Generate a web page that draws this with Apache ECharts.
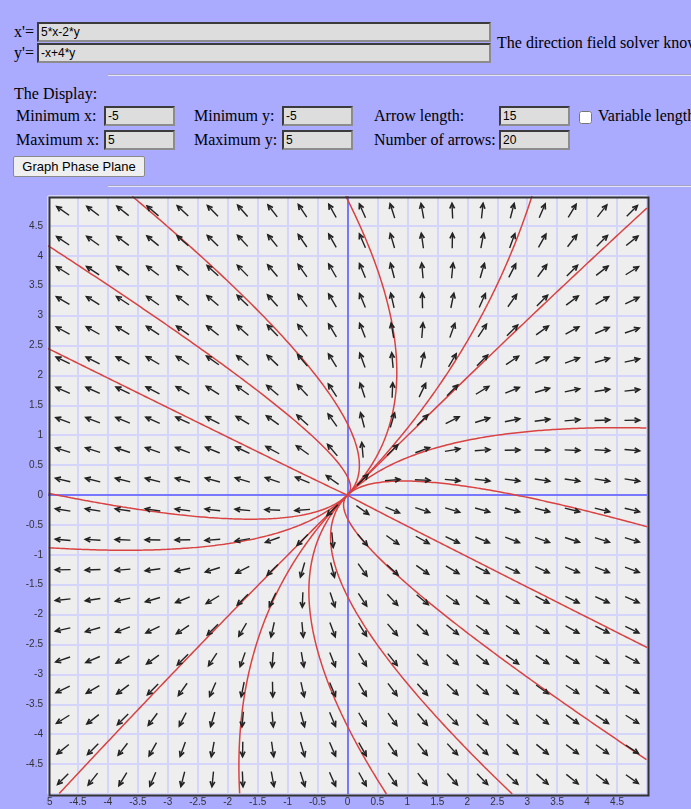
<!DOCTYPE html>
<html>
<head>
<meta charset="utf-8">
<title>Phase Plane</title>
<script src="https://cdn.jsdelivr.net/npm/echarts@6/dist/echarts.min.js"></script>
<style>
  html, body { margin: 0; padding: 0; width: 691px; height: 809px; overflow: hidden; background: #aaaaff; }
  body { position: relative; font-family: "Liberation Serif", "Times New Roman", serif; font-size: 16px; color: #000; white-space: nowrap; }
  .t { position: absolute; height: 20px; line-height: 20px; }
  .in { position: absolute; box-sizing: border-box; height: 20px; margin: 0; padding: 0 2px;
        background: #dddddd; border-style: solid; border-width: 2px;
        border-color: #3b3b3b #8c8c8c #8c8c8c #3b3b3b;
        font-family: "Liberation Sans", Arial, sans-serif; font-size: 12px; color: #000; outline: none; }
  .hr { position: absolute; left: 108px; width: 600px; height: 0; border-top: 1px solid #a4a4c4; border-bottom: 1px solid #e4e4f4; }
  .btn { position: absolute; box-sizing: border-box; margin: 0; padding: 0;
         background: #efefef; border: 1px solid #8a8a8a; border-radius: 2px;
         font-family: "Liberation Sans", Arial, sans-serif; font-size: 13px; color: #000; }
  .cb { position: absolute; margin: 0; width: 13px; height: 13px; }
  #chart { position: absolute; left: 0; top: 188px; width: 691px; height: 621px; }
</style>
</head>
<body>
  <div class="t" style="left:14px;top:22px;">x'=</div>
  <input class="in" style="left:37px;top:22px;width:454px;" value="5*x-2*y">
  <div class="t" style="left:14px;top:43px;">y'=</div>
  <input class="in" style="left:37px;top:43px;width:454px;" value="-x+4*y">
  <div class="t" style="left:497px;top:33px;">The direction field solver knows</div>
  <div class="hr" style="top:74px;"></div>

  <div class="t" style="left:14px;top:84px;">The Display:</div>

  <div class="t" style="left:16px;top:106px;">Minimum x:</div>
  <input class="in" style="left:104px;top:106px;width:71px;" value="-5">
  <div class="t" style="left:194px;top:106px;">Minimum y:</div>
  <input class="in" style="left:282px;top:106px;width:71px;" value="-5">
  <div class="t" style="left:374px;top:106px;">Arrow length:</div>
  <input class="in" style="left:499px;top:106px;width:71px;" value="15">
  <input class="cb" type="checkbox" style="left:579px;top:111px;">
  <div class="t" style="left:598px;top:106px;">Variable length</div>

  <div class="t" style="left:16px;top:130px;">Maximum x:</div>
  <input class="in" style="left:104px;top:130px;width:71px;" value="5">
  <div class="t" style="left:194px;top:130px;">Maximum y:</div>
  <input class="in" style="left:282px;top:130px;width:71px;" value="5">
  <div class="t" style="left:374px;top:130px;">Number of arrows:</div>
  <input class="in" style="left:499px;top:130px;width:71px;" value="20">

  <button class="btn" style="left:13px;top:156px;width:132px;height:21px;">Graph Phase Plane</button>
  <div class="hr" style="top:185px;"></div>

  <div id="chart"></div>

<script>
// System: x' = 5x - 2y, y' = -x + 4y  (coefficients of x and y)
const dxCoef = [5, -2];
const dyCoef = [-1, 4];

// Window
const xRange = [-5, 5];
const yRange = [-5, 5];

// Arrow centres (20 per axis)
const arrowXs = [-4.75, -4.25, -3.75, -3.25, -2.75, -2.25, -1.75, -1.25, -0.75, -0.25,
                 0.25, 0.75, 1.25, 1.75, 2.25, 2.75, 3.25, 3.75, 4.25, 4.75];
const arrowYs = [-4.75, -4.25, -3.75, -3.25, -2.75, -2.25, -1.75, -1.25, -0.75, -0.25,
                 0.25, 0.75, 1.25, 1.75, 2.25, 2.75, 3.25, 3.75, 4.25, 4.75];

// Starting points of the solution curves (where each one meets the window edge)
const seedXs = [-3.6, -0.03, 3.08, 5, 5, 5, 5, 5, 2.75, 0.65, -1.8, -4.82, -5, -5, -5, -5];
const seedYs = [5, 5, 5, 4.8, 1.12, -0.53, -2.55, -4.43, -5, -5, -5, -5, 4.17, 2.45, 0.03, -0.88];

const ARROW_PX = 15;

function field(p) {
  return [dxCoef[0] * p[0] + dxCoef[1] * p[1], dyCoef[0] * p[0] + dyCoef[1] * p[1]];
}
function unitField(p) {
  const f = field(p);
  const m = Math.hypot(f[0], f[1]) || 1;
  return [f[0] / m, f[1] / m];
}
function inside(p) {
  return p[0] >= xRange[0] && p[0] <= xRange[1] && p[1] >= yRange[0] && p[1] <= yRange[1];
}
// Follow the flow (dir = +1) or run it backwards (dir = -1) with RK4 in arc length,
// stopping at the origin or at the window edge
function trace(seed, dir) {
  const pts = [];
  let p = seed.slice();
  for (let i = 0; i < 6000; i++) {
    const r = Math.hypot(p[0], p[1]);
    if (r < 0.002) break;
    const h = Math.min(0.01, r * 0.3) * dir;
    const k1 = unitField(p);
    const k2 = unitField([p[0] + h / 2 * k1[0], p[1] + h / 2 * k1[1]]);
    const k3 = unitField([p[0] + h / 2 * k2[0], p[1] + h / 2 * k2[1]]);
    const k4 = unitField([p[0] + h * k3[0], p[1] + h * k3[1]]);
    const nxt = [p[0] + h / 6 * (k1[0] + 2 * k2[0] + 2 * k3[0] + k4[0]),
                 p[1] + h / 6 * (k1[1] + 2 * k2[1] + 2 * k3[1] + k4[1])];
    if (!inside(nxt)) break;
    p = nxt;
    pts.push(p);
  }
  return pts;
}

const curveSeries = seedXs.map((sx, i) => {
  const seed = [sx, seedYs[i]];
  const back = trace(seed, -1).reverse();
  const fwd = trace(seed, 1);
  return {
    type: 'line',
    data: back.concat([seed], fwd),
    showSymbol: false,
    symbol: 'none',
    clip: true,
    silent: true,
    z: 3,
    lineStyle: { color: '#d94242', width: 1.5 }
  };
});

const arrowData = [];
arrowYs.forEach(y => arrowXs.forEach(x => {
  const f = field([x, y]);
  arrowData.push([x, y, f[0], f[1]]);
}));

function renderArrow(params, api) {
  const x = api.value(0), y = api.value(1), fx = api.value(2), fy = api.value(3);
  const c = api.coord([x, y]);
  const m = Math.hypot(fx, fy) || 1;
  const q = api.coord([x + fx / m * 0.1, y + fy / m * 0.1]);
  let ux = q[0] - c[0], uy = q[1] - c[1];
  const n = Math.hypot(ux, uy) || 1;
  ux /= n; uy /= n;
  const half = ARROW_PX / 2;
  const tail = [c[0] - ux * half, c[1] - uy * half];
  const tip = [c[0] + ux * half, c[1] + uy * half];
  const hl = 5.5, a = 0.45, ca = Math.cos(a), sa = Math.sin(a);
  const bx = -ux, by = -uy;
  const h1 = [tip[0] + hl * (bx * ca - by * sa), tip[1] + hl * (bx * sa + by * ca)];
  const h2 = [tip[0] + hl * (bx * ca + by * sa), tip[1] + hl * (-bx * sa + by * ca)];
  const stroke = '#222222';
  return {
    type: 'group',
    children: [
      { type: 'line', shape: { x1: tail[0], y1: tail[1], x2: tip[0], y2: tip[1] },
        style: { stroke: stroke, lineWidth: 1.4 } },
      { type: 'polyline', shape: { points: [h1, tip, h2] },
        style: { stroke: stroke, lineWidth: 1.7, fill: null, lineJoin: 'miter' } }
    ]
  };
}

const axisLabelStyle = { fontFamily: '"Liberation Sans", Arial, sans-serif', fontSize: 10, color: '#333' };

const GRID = { left: 48, top: 8, width: 599, height: 598 };

const chart = echarts.init(document.getElementById('chart'), null, { renderer: 'canvas' });
chart.setOption({
  animation: false,
  grid: { left: GRID.left, top: GRID.top, width: GRID.width, height: GRID.height, show: true,
          backgroundColor: '#eeeeee', borderColor: '#333333', borderWidth: 0 },
  xAxis: {
    type: 'value', min: xRange[0], max: xRange[1], interval: 0.5,
    axisLine: { show: false }, axisTick: { show: false },
    axisLabel: Object.assign({ showMaxLabel: false, margin: 3 }, axisLabelStyle),
    splitLine: { show: true, lineStyle: { color: '#d5d5fb', width: 2 } }
  },
  yAxis: {
    type: 'value', min: yRange[0], max: yRange[1], interval: 0.5,
    axisLine: { show: false }, axisTick: { show: false },
    axisLabel: Object.assign({ showMaxLabel: false, showMinLabel: false, margin: 5 }, axisLabelStyle),
    splitLine: { show: true, lineStyle: { color: '#d5d5fb', width: 2 } }
  },
  graphic: [
    // frame around the plotting area, above the grid lines and marks
    { type: 'rect', left: GRID.left - 1, top: GRID.top - 1,
      shape: { x: 0, y: 0, width: GRID.width, height: GRID.height },
      style: { fill: null, stroke: '#333333', lineWidth: 2 }, z: 100, silent: true },
    // the y label strip hides the minus sign of the first x label
    { type: 'rect', left: 0, top: 608, shape: { width: 46.6, height: 13 },
      style: { fill: '#aaaaff' }, z: 100, silent: true }
  ],
  series: [
    {
      type: 'lines', coordinateSystem: 'cartesian2d', silent: true, z: 2,
      lineStyle: { color: '#7878ff', width: 2, opacity: 1 },
      data: [
        { coords: [[xRange[0], 0], [xRange[1], 0]] },
        { coords: [[0, yRange[0]], [0, yRange[1]]] }
      ]
    }
  ].concat(curveSeries, [
    {
      type: 'custom', renderItem: renderArrow, data: arrowData, silent: true, z: 4,
      encode: { x: 0, y: 1 }
    }
  ])
});
</script>
</body>
</html>
